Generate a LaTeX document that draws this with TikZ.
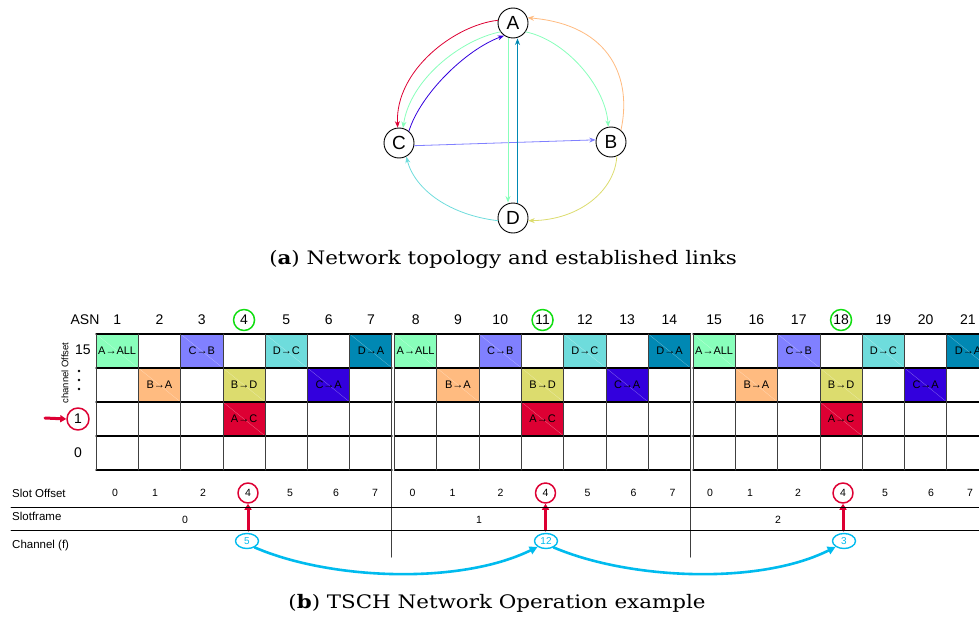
\documentclass[tikz,border=0pt]{standalone}
\usepackage{fontspec}
\newfontfamily\arialish{Liberation Sans}
\newfontfamily\capfont{DejaVu Serif}
\usetikzlibrary{arrows.meta,shapes.geometric}
\definecolor{linkmint}{HTML}{88FFBB}
\definecolor{linklilac}{HTML}{8080FF}
\definecolor{linkaqua}{HTML}{6EDCDC}
\definecolor{linkpetrol}{HTML}{0088B3}
\definecolor{linkapricot}{HTML}{FFBB80}
\definecolor{linkolive}{HTML}{DCDC6E}
\definecolor{linkindigo}{HTML}{3300DD}
\definecolor{linkcrimson}{HTML}{DD0033}
\definecolor{chcyan}{HTML}{00BBEE}
\definecolor{ringgreen}{HTML}{11DD11}

\begin{document}
\begin{tikzpicture}[x=1pt,y=-1pt,line cap=round,line join=round,
  every node/.style={font=\arialish\fontsize{11}{13}\selectfont,inner sep=1pt},
  topo/.style={circle,draw,line width=0.9pt,fill=white,minimum size=30pt,inner sep=0pt,font=\arialish\fontsize{19}{19}\selectfont},
  link/.style={-{Stealth[length=6.5pt,width=5pt]},line width=0.8pt},
  asn/.style={font=\arialish\fontsize{14}{14}\selectfont},
  slotnum/.style={font=\arialish\fontsize{10.5}{12}\selectfont},
  gridh/.style={black,line width=1.1pt},
  gridv/.style={black!75,line width=0.8pt},
  greenring/.style={circle,draw=ringgreen,line width=1.5pt,minimum size=21pt,inner sep=0pt},
  redring/.style={circle,draw=linkcrimson,line width=1.5pt,minimum size=20pt,inner sep=0pt},
  chring/.style={ellipse,draw=chcyan,line width=1.4pt,text=chcyan,minimum width=23pt,minimum height=15pt,inner sep=0pt,font=\arialish\fontsize{10}{10}\selectfont},
  hop/.style={chcyan,line width=2.6pt,-{Triangle[length=8pt,width=8pt]}},
  pick/.style={linkcrimson,line width=3pt,-{Triangle[length=6pt,width=7pt]}},
  caption/.style={xscale=1.15,font=\capfont\fontsize{18.6}{22}\selectfont}]
\useasboundingbox (0,0) rectangle (979,618);
\clip (0,0) rectangle (979,618);

% (a) topology
\node[topo] (A) at (513,23) {A};
\node[topo] (B) at (611,142) {B};
\node[topo] (C) at (399,143) {C};
\node[topo] (D) at (513,218) {D};
\draw[link,linkcrimson] (A.170) .. controls (455,25) and (395,70) .. (C.95);
\draw[link,linkmint] (A.215) .. controls (460,40) and (410,80) .. (C.75);
\draw[link,linkindigo] (C.50) .. controls (420,95) and (465,50) .. (A.235);
\draw[link,linkmint] (A.-35) .. controls (565,40) and (605,85) .. (B.100);
\draw[link,linkapricot] (B.50) .. controls (632,80) and (612,25) .. (A.20);
\draw[link,linkolive] (B.-68) .. controls (615,190) and (580,220) .. (D.-10);
\draw[link,linkaqua] (D.190) .. controls (450,215) and (415,190) .. (C.-62);
\draw[link,linklilac] (C.-10) -- (B.172);
\draw[link,linkmint] ([xshift=-5pt]A.south) -- ([xshift=-5pt]D.north);
\draw[link,linkpetrol] ([xshift=4.5pt]D.north) -- ([xshift=4.5pt]A.south);
\node[caption] (capa) at (503,259) {(\textbf{a}) Network topology and established links};

% (b) slot grid
\foreach \b in {0,1,2} {
  \foreach \slot/\row/\tone/\lbl in {1/0/linkmint/A→ALL,3/0/linklilac/C→B,5/0/linkaqua/D→C,7/0/linkpetrol/D→A,
      2/1/linkapricot/B→A,4/1/linkolive/B→D,6/1/linkindigo/C→A,4/2/linkcrimson/A→C} {
    \fill[\tone] ({96+298.5*\b+42.3*(\slot-1)},{334+34*\row}) rectangle +(42.3,34);
    \draw[white,opacity=0.5,very thin] ({96+298.5*\b+42.3*(\slot-1)},{334+34*\row}) -- +(42.3,34);
    \node (cell-\b-\slot-\row) at ({96+298.5*\b+42.3*(\slot-0.5)},{351+34*\row}) {\lbl};
  }
  \foreach \row in {0,...,4}
    \draw[gridh] ({96+298.5*\b},{334+34*\row}) -- +(296.1,0);
  \foreach \slot in {0,...,6}
    \draw[gridv] ({96+298.5*\b+42.3*\slot},334) -- +(0,136);
  \foreach \slot in {1,...,7} {
    \pgfmathtruncatemacro\n{7*\b+\slot}
    \node[asn] (asn-\n) at ({96+298.5*\b+42.3*(\slot-0.5)},320) {\n};
  }
  \foreach \slot/\x in {0/115,1/155,2/203,4/248,5/290,6/336,7/375}
    \node[slotnum] (so-\b-\slot) at ({\x+297.5*\b},493) {\slot};
  \node[redring] (ring-\b) at (so-\b-4) {};
  \coordinate (foot-\b) at ({248+297.5*\b},530);
  \draw[pick] (foot-\b) -- (ring-\b.south);
}
\draw[gridv,line width=1pt] (391.7,334) -- (391.7,557);
\draw[gridv,line width=1pt] (690.6,334) -- (690.6,557);
\foreach \n in {4,11,18}
  \node[greenring] (asnring-\n) at (asn-\n) {};

% row labels
\node[asn] (asnlbl) at (85,320) {ASN};
\node[asn] (off-15) at (83,350) {15};
\foreach \y in {371,380,389}
  \fill (79,\y) circle (1.3);
\node[asn] (off-1) at (78,419) {1};
\node[redring,minimum size=22pt] (offring) at (off-1) {};
\coordinate (ptr) at (45,418);
\draw[pick] (ptr) -- (offring.west);
\node[asn] (off-0) at (78,453) {0};
\node[rotate=90,font=\arialish\fontsize{9.5}{10}\selectfont] (choff) at (65,373) {channel Offset};

% slotframe rows
\draw[black,line width=0.9pt] (11,507) -- (979,507);
\draw[black,line width=0.9pt] (11,530) -- (979,530);
\node[anchor=west,font=\arialish\fontsize{11.5}{13}\selectfont] (sotxt) at (11,493) {Slot Offset};
\node[anchor=west,font=\arialish\fontsize{11.5}{13}\selectfont] (sftxt) at (11,516) {Slotframe};
\node[anchor=west,font=\arialish\fontsize{11.5}{13}\selectfont] (chtxt) at (11,546) {Channel (f)};
\node[slotnum] (sf-0) at (185,520) {0};
\node[slotnum] (sf-1) at (479,520) {1};
\node[slotnum] (sf-2) at (778,520) {2};

% channel hops
\node[chring] (ch-0) at (247,541) {5};
\node[chring] (ch-1) at (546,541) {12};
\node[chring] (ch-2) at (844,541) {3};
\draw[hop] (ch-0.-40) .. controls (330,580) and (460,585) .. (ch-1.215);
\draw[hop] (ch-1.-40) .. controls (630,580) and (760,585) .. (ch-2.215);
\node[caption] (capb) at (497,603) {(\textbf{b}) TSCH Network Operation example};
\end{tikzpicture}
\end{document}
